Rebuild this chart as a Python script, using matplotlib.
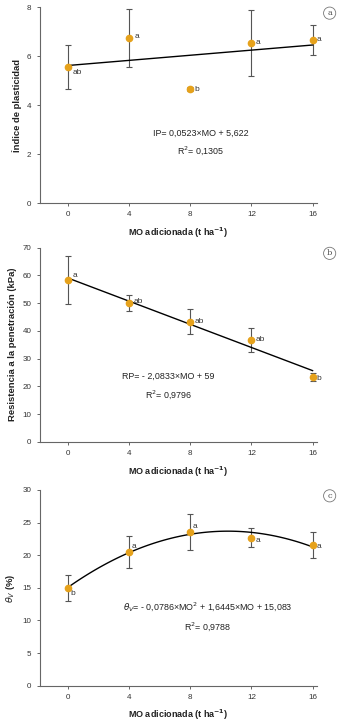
import numpy as np
import matplotlib.pyplot as plt

plt.rcParams['font.family'] = ['Liberation Sans', 'DejaVu Sans']

# datos
mo = [0, 4, 8, 12, 16]
ip = [5.55, 6.75, 4.68, 6.55, 6.68]
ip_err = [0.9, 1.18, 0.08, 1.35, 0.61]
ip_let = ['ab', 'a', 'b', 'a', 'a']

rp = [58.3, 50.0, 43.3, 36.7, 23.3]
rp_err = [8.8, 2.8, 4.4, 4.3, 1.5]
rp_let = ['a', 'ab', 'ab', 'ab', 'b']

tv = [15.0, 20.5, 23.6, 22.7, 21.5]
tv_err = [2.0, 2.4, 2.75, 1.5, 2.0]
tv_let = ['b', 'a', 'a', 'a', 'a']

ylabels = ['Índice de plasticidad', 'Resistencia a la penetración (kPa)', r'$\theta_V$ (%)']
ylims = [(0, 8), (0, 70), (0, 30)]
ysteps = [2, 10, 5]
paneles = ['a', 'b', 'c']
eq_txt = [('IP= 0,0523×MO + 5,622', r'R$^2$= 0,1305'),
          ('RP= - 2,0833×MO + 59', r'R$^2$= 0,9796'),
          (r'$\theta_V$= - 0,0786×MO$^2$ + 1,6445×MO + 15,083', r'R$^2$= 0,9788')]
eq_pos = [(8.66, 2.86, 2.15), (6.56, 23.5, 17.0), (9.14, 12.0, 9.14)]
coefs = [[0.0523, 5.622], [-2.0833, 59], [-0.0786, 1.6445, 15.083]]

# offsets de las letras (x, y en puntos)
let_off = [[(3, -4), (4, 1), (3, -1), (3, 0), (3, 0)],
           [(3, 3), (3, 1), (3, 0), (3, 0), (3, -1)],
           [(2, -4), (2, 4), (2, 4), (3, -2), (3, -1)]]

fig = plt.figure(figsize=(3.44, 7.28), dpi=100)
boxes = [[0.116, 0.721, 0.806, 0.269],
         [0.116, 0.393, 0.806, 0.267],
         [0.116, 0.058, 0.806, 0.269]]
datos = [(ip, ip_err, ip_let), (rp, rp_err, rp_let), (tv, tv_err, tv_let)]
naranja = '#E6A21C'

for i in range(3):
    ax = fig.add_axes(boxes[i])
    y, e, let = datos[i]
    ax.errorbar(mo, y, yerr=e, fmt='none', ecolor='#555555', elinewidth=0.8,
                capsize=2.5, capthick=0.8, zorder=2)
    xx = np.linspace(0, 16, 100)
    ax.plot(xx, np.polyval(coefs[i], xx), color='black', lw=1.0, zorder=3)
    ax.plot(mo, y, 'o', color=naranja, ms=4.5, mec=naranja, zorder=4)
    for k in range(5):
        ax.annotate(let[k], (mo[k], y[k]), xytext=let_off[i][k], textcoords='offset points',
                    fontsize=6, color='#333333', va='center', ha='left')
    xt, y1, y2 = eq_pos[i]
    ax.text(xt, y1, eq_txt[i][0], fontsize=6.4, ha='center', va='center', color='#222222')
    ax.text(xt, y2, eq_txt[i][1], fontsize=6.4, ha='center', va='center', color='#222222')
    ax.set_xlim(-1.84, 16.3)
    ax.set_ylim(*ylims[i])
    ax.set_xticks(mo)
    ax.set_yticks(np.arange(ylims[i][0], ylims[i][1] + 0.1, ysteps[i]))
    for s in ['top', 'right']:
        ax.spines[s].set_visible(False)
    for s in ['left', 'bottom']:
        ax.spines[s].set_color('#666666')
        ax.spines[s].set_linewidth(0.8)
    ax.tick_params(labelsize=5.8, colors='#666666', labelcolor='#333333', length=2.5, width=0.7)
    ax.set_ylabel(ylabels[i], fontsize=6.8, fontweight='bold', color='#222222', labelpad=4)
    ax.set_xlabel(r'MO adicionada (t ha$^{\mathbf{-1}}$)', fontsize=6.5, fontweight='bold',
                  color='#222222', labelpad=5)
    ax.text(1.045, 0.97, paneles[i], transform=ax.transAxes, fontsize=6, ha='center', va='center',
            color='#555555', family='DejaVu Serif',
            bbox=dict(boxstyle='circle,pad=0.25', fc='white', ec='#777777', lw=0.6))

fig.savefig('out.png', dpi=100)
